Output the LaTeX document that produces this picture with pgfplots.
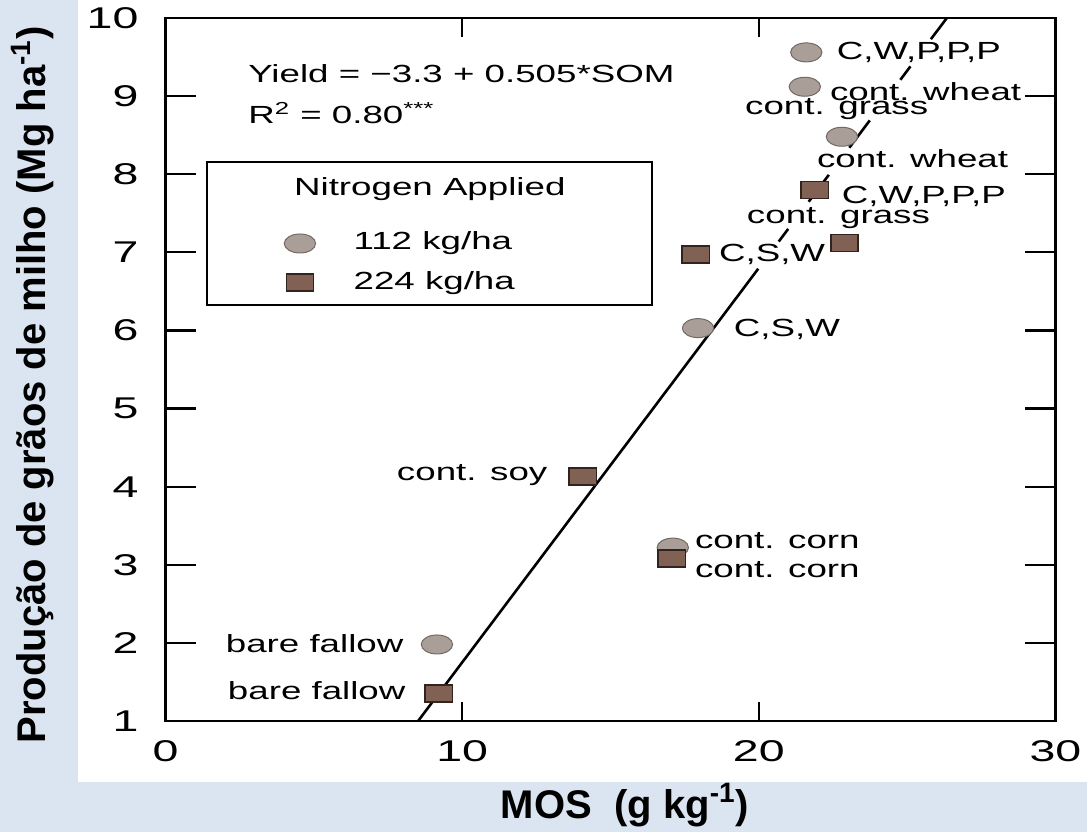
\documentclass[border=0pt]{standalone}
\usepackage{fontspec}
\setmainfont{Liberation Sans}
\newfontfamily\plotfont[FakeStretch=1.48]{Liberation Sans}
\newfontfamily\tickfont[FakeStretch=1.55]{Liberation Sans}
\usepackage{pgfplots}
\usepackage{pgfplotstable}
\pgfplotsset{compat=1.18}

\definecolor{slideblue}{HTML}{DBE5F1}
\definecolor{circfill}{RGB}{170,159,152}
\definecolor{circedge}{RGB}{115,105,100}
\definecolor{sqfill}{RGB}{128,97,84}
\definecolor{sqedge}{RGB}{50,35,30}

\newcommand{\annfont}{\plotfont\fontsize{12.4}{14}\selectfont}
\newcommand{\tickfnt}{\tickfont\fontsize{15}{17}\selectfont}
\newcommand{\axlabfont}{\bfseries\fontsize{20}{23}\selectfont}

% SOM (g/kg) and corn grain yield (Mg/ha)
\pgfplotstableread{
x      y
21.60  9.56
21.55  9.12
22.80  8.48
17.95  6.03
17.10  3.22
9.15   1.98
}\lowN
\pgfplotstableread{
x      y
21.88  7.80
22.89  7.12
17.87  6.97
14.06  4.13
17.06  3.08
9.21   1.35
}\highN

\begin{document}
\begin{tikzpicture}
\path[use as bounding box] (0,0) rectangle (543.5pt,-416pt);
\fill[slideblue] (0,0) rectangle (543.5pt,-416pt);
\fill[white] (39pt,0) rectangle (543.5pt,-391pt);

\begin{axis}[
  at={(82.75pt,-360.5pt)}, anchor=south west,
  scale only axis, width=445pt, height=351.5pt,
  xmin=0, xmax=30, ymin=1, ymax=10,
  xtick={0,10,20,30}, ytick={1,2,...,10},
  tick align=inside, tick pos=both, ticklabel pos=left,
  axis line style={line width=1.1pt},
  xtick style={line width=1.1pt, black, /pgfplots/major tick length=9.5pt},
  ytick style={line width=1.1pt, black, /pgfplots/major tick length=15pt},
  /pgf/number format/assume math mode=true,
  xticklabel style={font=\tickfnt, yshift=-6pt},
  yticklabel style={font=\tickfnt, xshift=-10pt},
  legend style={at={(axis cs:3.99,7.267)}, anchor=north west, draw=none, fill=none,
    inner sep=0pt, column sep=19pt, row sep=8pt, font=\annfont,
    nodes={inner sep=0pt, text depth=2.6pt}, cells={anchor=west}},
  legend image code/.code={\draw[#1] plot coordinates {(0pt,0pt)};},
  unbounded coords=jump,
]
% regression line Yield = -3.3 + 0.505 SOM, broken where it runs under the labels
\addplot[black, line width=1.3pt, forget plot] coordinates {
  (8.50,0.9925) (19.98,6.790) (20.3,nan)
  (20.67,7.138) (20.99,7.300) (21.3,nan)
  (21.68,7.648) (22.36,7.992) (22.7,nan)
  (23.05,8.340) (23.74,8.689) (24.2,nan)
  (24.77,9.209) (25.11,9.381) (25.4,nan)
  (25.80,9.729) (26.40,10.032)};

% legend frame and heading
\draw[line width=1.1pt, fill=white] (axis cs:1.40,8.157) rectangle (axis cs:16.40,6.326);
\node[anchor=base, font=\annfont] at (axis cs:8.91,7.734) {Nitrogen Applied};

% equation
\node[anchor=base west, font=\annfont, inner sep=0pt] at (axis cs:2.78,9.18) {Yield = −3.3 + 0.505*SOM};
\node[anchor=base west, font=\annfont, inner sep=0pt] at (axis cs:2.78,8.656) {R\textsuperscript{2} = 0.80\textsuperscript{***}};

% point labels
\begin{scope}[every node/.style={font=\annfont, inner sep=1pt}]
\node[anchor=base west] at (axis cs:22.55,9.475) {C,W,P,P,P};
\node[anchor=base west] at (axis cs:22.32,8.95) {cont. wheat};
\node[anchor=base west] at (axis cs:19.46,8.76) {cont. grass};
\node[anchor=base west] at (axis cs:21.88,8.08) {cont. wheat};
\node[anchor=base west] at (axis cs:22.72,7.63) {C,W,P,P,P};
\node[anchor=base west] at (axis cs:19.52,7.37) {cont. grass};
\node[anchor=base west] at (axis cs:18.58,6.88) {C,S,W};
\node[anchor=base west] at (axis cs:19.08,5.92) {C,S,W};
\node[anchor=base east] at (axis cs:12.95,4.085) {cont. soy};
\node[anchor=base west] at (axis cs:17.77,3.215) {cont. corn};
\node[anchor=base west] at (axis cs:17.77,2.84) {cont. corn};
\node[anchor=base east] at (axis cs:8.10,1.883) {bare fallow};
\node[anchor=base east] at (axis cs:8.17,1.27) {bare fallow};
\end{scope}

\addplot[only marks, mark=*, mark size=4.75pt,
  mark options={xscale=1.65, fill=circfill, draw=circedge, line width=0.5pt}]
  table[x=x, y=y] {\lowN};
\addlegendentry{112 kg/ha}
\addplot[only marks, mark=square*, mark size=4.25pt,
  mark options={xscale=1.6, fill=sqfill, draw=sqedge, line width=0.7pt}]
  table[x=x, y=y] {\highN};
\addlegendentry{224 kg/ha}
\end{axis}

\node[anchor=base, font=\axlabfont] at (312.5pt,-409pt) {MOS\ \ (g kg\textsuperscript{-1})};
\node[anchor=base, rotate=90, font=\axlabfont] at (23pt,-192.5pt) {Produção de grãos de milho (Mg ha\textsuperscript{-1})};
\end{tikzpicture}
\end{document}
